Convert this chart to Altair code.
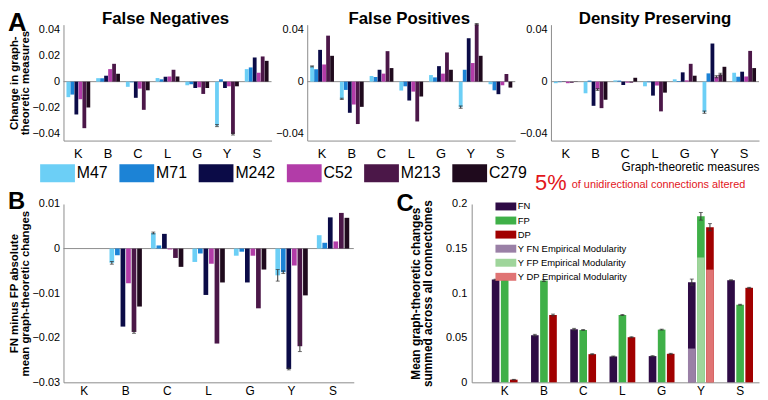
import altair as alt
import pandas as pd

FONT = "Liberation Sans, Arial, sans-serif"
GRAY = "#8c8c8c"
RED = "#e2161b"
ERRC = "#333333"

measures = ["K", "B", "C", "L", "G", "Y", "S"]
series = ["M47", "M71", "M242", "C52", "M213", "C279"]
series_colors = ["#6ccff6", "#1c83d6", "#0b0b47", "#b23ca8", "#4b1748", "#1f0a1d"]

# ---- Panel A: False Negatives
fn_M47 = [-0.0120, 0.0027, -0.0040, 0.0028, -0.0028, -0.0340, 0.0097]
fn_M71 = [-0.0100, 0.0026, -0.0005, 0.0018, -0.0020, 0.0018, 0.0110]
fn_M242 = [-0.0254, 0.0046, -0.0125, 0.0038, -0.0049, -0.0049, 0.0187]
fn_C52 = [-0.0136, 0.0097, -0.0054, 0.0040, -0.0044, -0.0036, 0.0069]
fn_M213 = [-0.0360, 0.0138, -0.0218, 0.0092, -0.0095, -0.0405, 0.0195]
fn_C279 = [-0.0200, 0.0061, -0.0067, 0.0040, -0.0049, -0.0036, 0.0161]
fn_err = [("Y", "M47", 0.0008), ("Y", "M213", 0.0008)]

# ---- Panel A: False Positives
fp_M47 = [0.0118, -0.0133, 0.0044, -0.0069, 0.0051, -0.0197, -0.0020]
fp_M71 = [0.0095, -0.0064, 0.0036, -0.0036, 0.0033, 0.0092, -0.0067]
fp_M242 = [0.0246, -0.0241, 0.0092, -0.0146, 0.0120, 0.0336, -0.0097]
fp_C52 = [0.0133, -0.0177, 0.0062, -0.0077, 0.0062, 0.0144, -0.0028]
fp_M213 = [0.0356, -0.0328, 0.0236, -0.0308, 0.0226, 0.0444, 0.0059]
fp_C279 = [0.0200, -0.0195, 0.0105, -0.0115, 0.0092, 0.0200, -0.0046]
fp_err = [("Y", "M47", 0.0009), ("Y", "M213", 0.0006), ("B", "M47", 0.0005), ("K", "M47", 0.0004)]

# ---- Panel A: Density Preserving
dp_M47 = [-0.0012, -0.0090, 0.0010, -0.0036, 0.0018, -0.0236, 0.0069]
dp_M71 = [-0.0004, 0.0008, 0.0008, -0.0005, 0.0005, 0.0064, 0.0038]
dp_M242 = [-0.0002, -0.0187, -0.0026, -0.0108, 0.0072, 0.0295, 0.0077]
dp_C52 = [-0.0012, -0.0061, -0.0008, -0.0030, 0.0010, 0.0038, 0.0040]
dp_M213 = [-0.0008, -0.0205, -0.0008, -0.0230, 0.0138, 0.0056, 0.0238]
dp_C279 = [-0.0002, -0.0140, 0.0030, -0.0085, 0.0046, 0.0115, 0.0105]
dp_err = [("Y", "M47", 0.0009), ("B", "C52", 0.0007), ("Y", "C52", 0.0008), ("Y", "M213", 0.0009)]

# ---- Panel B: FN minus FP
b_M47 = [0.0, -0.0032, 0.0035, -0.0030, -0.0016, -0.0060, 0.0030]
b_M71 = [0.0, -0.0015, 0.0007, -0.0011, -0.0007, -0.0053, 0.0013]
b_M242 = [0.0, -0.0175, 0.0033, -0.0104, -0.0076, -0.0270, 0.0070]
b_C52 = [0.0, -0.0078, -0.0002, -0.0034, -0.0016, -0.0038, 0.0016]
b_M213 = [0.0, -0.0187, -0.0021, -0.0213, -0.0134, -0.0219, 0.0080]
b_C279 = [0.0, -0.0130, -0.0041, -0.0076, -0.0047, -0.0105, 0.0069]
b_err = [("Y", "M47", 0.0013), ("Y", "M213", 0.0012), ("B", "M213", 0.0003),
         ("B", "M47", 0.0003), ("C", "M47", 0.0002), ("Y", "M71", 0.0003), ("Y", "M242", 0.0002)]

# ---- Panel C: summed changes
c_slots = ["FN", "FP", "DP"]
c_FN = [0.1152, 0.0528, 0.0595, 0.0290, 0.0294, 0.1123, 0.1145]
c_FP = [0.1152, 0.1141, 0.0587, 0.0755, 0.0591, 0.1862, 0.0870]
c_DP = [0.0030, 0.0755, 0.0316, 0.0506, 0.0320, 0.1740, 0.1060]
c_FN_err = [0.0005, 0.0010, 0.0010, 0.0005, 0.0005, 0.0035, 0.0005]
c_FP_err = [0.0005, 0.0010, 0.0005, 0.0005, 0.0005, 0.0043, 0.0005]
c_DP_err = [0.0003, 0.0010, 0.0005, 0.0005, 0.0005, 0.0040, 0.0005]
c_emp_labels = ["Y FN Empirical Modularity", "Y FP Empirical Modularity", "Y DP Empirical Modularity"]
c_emp_values = [0.0379, 0.1400, 0.1264]
c_names = c_slots + c_emp_labels
c_colors = ["#2e0b45", "#3fb048", "#a10000", "#9a80a6", "#9fd59b", "#e07474"]

# ---- layout (pixels inside the single layered view)
W, H = 702, 361
A_YR = [117, 0]
BC_YR = [361, 181]
A_DOM = [-0.0456, 0.0441]


def to_long(cols):
    rows = []
    for s, vals in zip(series, cols):
        for m, v in zip(measures, vals):
            rows.append({"measure": m, "series": s, "value": v})
    return pd.DataFrame(rows)


def err_long(df, errs):
    rows = []
    for m, s, e in errs:
        v = float(df[(df.measure == m) & (df.series == s)].value.iloc[0])
        rows.append({"measure": m, "series": s, "lo": v - e, "hi": v + e})
    return pd.DataFrame(rows)


def label_layer(text, x, y, size, color="black", weight="normal", align="left"):
    return alt.Chart(pd.DataFrame({"t": [text]})).mark_text(
        align=align, baseline="alphabetic", fontSize=size, fontWeight=weight,
        color=color, font=FONT
    ).encode(x=alt.value(x), y=alt.value(y), text="t:N")


def grouped_panel(df, errs, xrange, yrange, ydomain, yvals, xpad, offpad,
                  xlabel_size, xlabel_pad, xoff, yoff, ytitle=None, ytitle_size=11.5,
                  legend=None, xtitle=None):
    xaxis = dict(orient="bottom", offset=xoff, labelAngle=0, labelFontSize=xlabel_size,
                 labelPadding=xlabel_pad, ticks=False, domainColor=GRAY,
                 labelColor="black", labelFont=FONT)
    if xtitle:
        xaxis.update(title=xtitle, titleAnchor="end", titleFontSize=12, titleColor="black",
                     titleFontWeight="normal", titlePadding=1, titleFont=FONT)
    else:
        xaxis["title"] = None
    yaxis = dict(orient="left", offset=yoff, values=yvals, format="~g", labelFontSize=11,
                 labelPadding=4, ticks=False, domainColor=GRAY, labelColor="black",
                 labelFont=FONT)
    if ytitle:
        yaxis.update(title=ytitle, titleFontSize=ytitle_size, titleFontWeight="bold",
                     titlePadding=1, titleLineHeight=ytitle_size + 0.5, titleFont=FONT,
                     titleColor="black")
    else:
        yaxis["title"] = None

    xscale = alt.Scale(domain=measures, range=xrange, paddingInner=xpad[0], paddingOuter=xpad[1])
    xoscale = alt.Scale(domain=series, paddingInner=offpad, paddingOuter=0)
    yscale = alt.Scale(domain=ydomain, range=yrange, nice=False)

    zero = alt.Chart(pd.DataFrame({"z": [0.0]})).mark_rule(
        color=GRAY, strokeWidth=1).encode(
        x=alt.value(xrange[0]), x2=alt.value(xrange[1]), y=alt.Y("z:Q", scale=yscale))
    bars = alt.Chart(df).mark_bar().encode(
        x=alt.X("measure:N", scale=xscale, axis=alt.Axis(**xaxis)),
        xOffset=alt.XOffset("series:N", scale=xoscale),
        y=alt.Y("value:Q", stack=None, scale=yscale, axis=alt.Axis(**yaxis)),
        color=alt.Color("series:N", scale=alt.Scale(domain=series, range=series_colors),
                        legend=legend),
    )
    ed = err_long(df, errs)
    xe = alt.X("measure:N", scale=xscale)
    xoe = alt.XOffset("series:N", scale=xoscale)
    erule = alt.Chart(ed).mark_rule(color=ERRC, strokeWidth=1).encode(
        x=xe, xOffset=xoe, y=alt.Y("lo:Q", scale=yscale), y2="hi:Q")
    cap_lo = alt.Chart(ed).mark_tick(color=ERRC, size=4, thickness=1).encode(
        x=xe, xOffset=xoe, y=alt.Y("lo:Q", scale=yscale))
    cap_hi = alt.Chart(ed).mark_tick(color=ERRC, size=4, thickness=1).encode(
        x=xe, xOffset=xoe, y=alt.Y("hi:Q", scale=yscale))
    return alt.layer(zero, bars, erule, cap_lo, cap_hi)


legendA = alt.Legend(title=None, orient="none", legendX=-15, legendY=141,
                     direction="horizontal", symbolType="M-1.95,-1H1.95V1H-1.95Z",
                     symbolSize=324, symbolStrokeWidth=0, symbolOpacity=1,
                     labelFontSize=16, labelFont=FONT, labelOffset=10.5,
                     columnPadding=11, labelColor="black", labelLimit=200)

df_fn = to_long([fn_M47, fn_M71, fn_M242, fn_C52, fn_M213, fn_C279])
df_fp = to_long([fp_M47, fp_M71, fp_M242, fp_C52, fp_M213, fp_C279])
df_dp = to_long([dp_M47, dp_M71, dp_M242, dp_C52, dp_M213, dp_C279])
df_b = to_long([b_M47, b_M71, b_M242, b_C52, b_M213, b_C279])

A_OFFX = A_YR[0] - H
a1 = grouped_panel(df_fn, fn_err, [0, 210], A_YR, A_DOM, [-0.04, -0.02, 0, 0.02, 0.04],
                   (0.2, 0.1), 0.05, 13, 7, A_OFFX, 0,
                   ytitle=["Change in graph-", "theoretic measures"], legend=legendA)
a2 = grouped_panel(df_fp, fp_err, [246, 456], A_YR, A_DOM, [-0.04, 0, 0.04],
                   (0.2, 0.1), 0.05, 13, 7, A_OFFX, -246)
a3 = grouped_panel(df_dp, dp_err, [492, 702], A_YR, A_DOM, [-0.04, 0, 0.04],
                   (0.2, 0.1), 0.05, 13, 7, A_OFFX, -492,
                   xtitle="Graph-theoretic measures")
b_panel = grouped_panel(df_b, b_err, [0, 293], BC_YR, [-0.03, 0.01],
                        [-0.03, -0.02, -0.01, 0, 0.01], (0.219, 0.1095), 0.15, 12, 3, 0, 0,
                        ytitle=["FN minus FP absolute", "mean graph-theoretic changes"])

# ---- Panel C
c_rows = []
for slot, vals, errs in zip(c_slots, [c_FN, c_FP, c_DP], [c_FN_err, c_FP_err, c_DP_err]):
    for m, v, e in zip(measures, vals, errs):
        c_rows.append({"measure": m, "slot": slot, "series": slot, "value": v,
                       "lo": v - e, "hi": v + e})
df_c = pd.DataFrame(c_rows)
df_emp = pd.DataFrame({"measure": ["Y"] * 3, "slot": c_slots,
                       "series": c_emp_labels, "value": c_emp_values})

xc_scale = alt.Scale(domain=measures, range=[412, 702], paddingInner=0.343,
                     paddingOuter=0.333, align=0.77)
xoc_scale = alt.Scale(domain=c_slots, paddingInner=0.16, paddingOuter=0)
yc_scale = alt.Scale(domain=[0, 0.2], range=BC_YR, nice=False)
legendC = alt.Legend(title=None, orient="none", legendX=441.5, legendY=178.5,
                     direction="vertical", symbolType="M-2.1,-0.8H2.1V0.8H-2.1Z",
                     symbolSize=100, symbolStrokeWidth=0, symbolOpacity=1,
                     labelFontSize=9.5, labelFont=FONT, labelOffset=7,
                     rowPadding=4.2, labelColor="black", labelLimit=300)
colorC = alt.Color("series:N", scale=alt.Scale(domain=c_names, range=c_colors), legend=legendC)

c_bars = alt.Chart(df_c).mark_bar().encode(
    x=alt.X("measure:N", scale=xc_scale,
            axis=alt.Axis(orient="bottom", offset=0, title=None, labelAngle=0,
                          labelFontSize=12, labelPadding=3, ticks=False, domainColor=GRAY,
                          labelColor="black", labelFont=FONT)),
    xOffset=alt.XOffset("slot:N", scale=xoc_scale),
    y=alt.Y("value:Q", stack=None, scale=yc_scale,
            axis=alt.Axis(orient="left", offset=-412, values=[0, 0.05, 0.1, 0.15, 0.2],
                          format="~g", labelFontSize=11, labelPadding=5, ticks=False,
                          domainColor=GRAY, labelColor="black", labelFont=FONT,
                          title=["Mean graph-theoretic changes", "summed across all connectomes"],
                          titleFontSize=12, titleFontWeight="bold", titlePadding=11,
                          titleLineHeight=12.5, titleFont=FONT, titleColor="black")),
    color=colorC)
xce = alt.X("measure:N", scale=xc_scale)
xoce = alt.XOffset("slot:N", scale=xoc_scale)
c_emp = alt.Chart(df_emp).mark_bar().encode(
    x=xce, xOffset=xoce, y=alt.Y("value:Q", stack=None, scale=yc_scale), color=colorC)
c_erule = alt.Chart(df_c).mark_rule(color=ERRC, strokeWidth=1).encode(
    x=xce, xOffset=xoce, y=alt.Y("lo:Q", scale=yc_scale), y2="hi:Q")
c_cap_lo = alt.Chart(df_c).mark_tick(color=ERRC, size=4, thickness=1).encode(
    x=xce, xOffset=xoce, y=alt.Y("lo:Q", scale=yc_scale))
c_cap_hi = alt.Chart(df_c).mark_tick(color=ERRC, size=4, thickness=1).encode(
    x=xce, xOffset=xoce, y=alt.Y("hi:Q", scale=yc_scale))
c_panel = alt.layer(c_bars, c_emp, c_erule, c_cap_lo, c_cap_hi)

texts = [
    label_layer("False Negatives", 103, -1, 17, weight="bold", align="center"),
    label_layer("False Positives", 349, -1, 17, weight="bold", align="center"),
    label_layer("Density Preserving", 597, -1, 17, weight="bold", align="center"),
    label_layer("A", -56, 6, 26, weight="bold"),
    label_layer("B", -56, 186, 24, weight="bold"),
    label_layer("C", 336, 188, 24, weight="bold"),
    label_layer("5%", 476, 167, 22, color=RED),
    label_layer("of unidirectional connections altered", 513, 165, 11, color=RED),
]

chart = alt.layer(a1, a2, a3, b_panel, c_panel, *texts).resolve_scale(
    x="independent", y="independent", xOffset="independent", color="independent"
).properties(width=W, height=H, padding=0).configure_view(stroke=None).configure_axis(
    grid=False)

chart.save("out.html", embed_options={"renderer": "svg", "actions": False})
